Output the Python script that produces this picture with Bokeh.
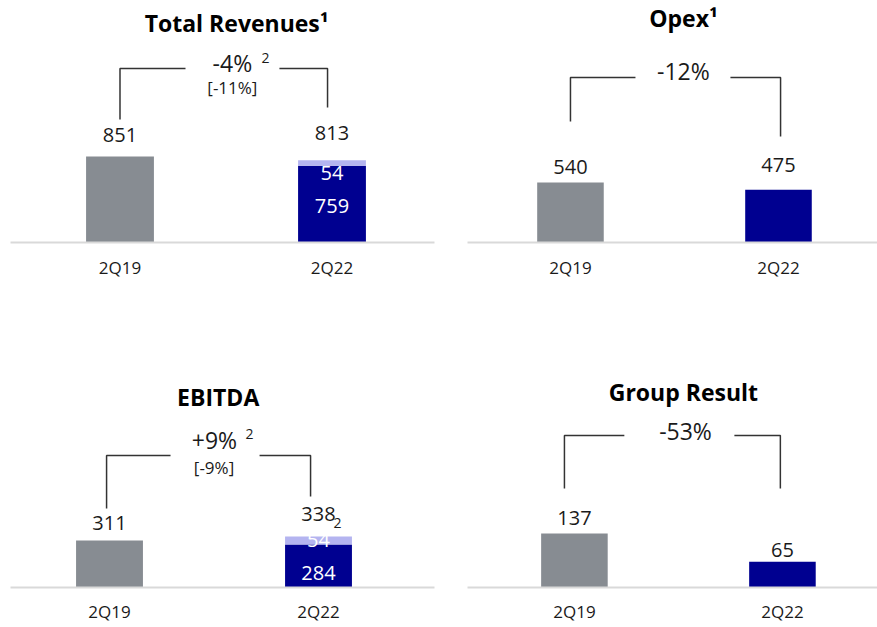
from bokeh.plotting import figure
from bokeh.layouts import column, row
from bokeh.models import Range1d, FixedTicker, ColumnDataSource
from bokeh.embed import file_html
from bokeh.resources import INLINE
from bokeh.core.properties import value

# ---------------- data ----------------
categories = ["2Q19", "2Q22"]

revenue_base = [851, 759]
revenue_extra = [0, 54]
opex = [540, 475]
ebitda_base = [311, 284]
ebitda_extra = [0, 54]
group_result = [137, 65]

titles = ["Total Revenues\u00b9", "Opex\u00b9", "EBITDA", "Group Result"]
changes = ["-4%", "-12%", "+9%", "-53%"]
change_notes = ["[-11%]", None, "[-9%]", None]

# ---------------- style ----------------
FONT = "Open Sans"
GRAY = "#878c92"
NAVY = "#000090"
LIGHT = "#b4b4f0"
INK = "#1a1a1a"
LINE = "#333333"
AXIS = "#d9d9d9"
FS_VAL = 20
FS_TITLE = 23
FS_CHG = 23
FS_NOTE = 17
FS_SUP = 14
BASE_FIX = 0.4  # baseline correction (fraction of font size)


def make_panel(base, extra, title, change, note, lay):
    h, bb = lay["h"], lay["bb"]
    frame_h = h - bb
    ymax = lay["ymax"]
    k = ymax / frame_h

    def up(px):
        return px * k

    p = figure(width=lay["w"], height=h,
               x_range=Range1d(*lay["xr"]), y_range=Range1d(0, ymax),
               output_backend="svg", toolbar_location=None, tools="",
               min_border_left=lay["mbl"], min_border_right=lay["mbr"],
               min_border_top=0, min_border_bottom=bb,
               y_axis_location=None, outline_line_color=None,
               background_fill_color="white", border_fill_color="white")
    p.xgrid.visible = False
    p.ygrid.visible = False

    def txt(x, y, text, fs, color=INK, align="center", bold=False):
        p.text(x=x, y=[v + up(BASE_FIX * fs) for v in y], text=text,
               text_font=value(FONT), text_font_size=f"{fs}px",
               text_font_style="bold" if bold else "normal",
               text_color=color, text_align=align,
               text_baseline="alphabetic")

    xs = list(range(len(categories)))
    totals = [b + e for b, e in zip(base, extra)]

    # bars
    src = ColumnDataSource(dict(x=xs, top=base, color=[GRAY, NAVY]))
    p.vbar(x="x", top="top", bottom=0, width=0.32, fill_color="color",
           line_color=None, source=src)
    ex_x = [x for x, e in zip(xs, extra) if e > 0]
    if ex_x:
        ex_b = [b for b, e in zip(base, extra) if e > 0]
        ex_t = [b + e for b, e in zip(base, extra) if e > 0]
        p.vbar(x=ex_x, bottom=ex_b, top=ex_t, width=0.32,
               fill_color=LIGHT, line_color=None)
        txt(ex_x, [t + up(lay["extra_lbl"]) for t in ex_t],
            [str(e) for e in extra if e > 0], FS_VAL, color="white")
        txt(ex_x, [up(lay["base_lbl"])] * len(ex_x),
            [str(b) for b, e in zip(base, extra) if e > 0], FS_VAL,
            color="white")

    # total labels
    txt(xs, [t + up(g) for t, g in zip(totals, lay["gaps"])],
        [str(t) for t in totals], FS_VAL)
    if lay.get("sub"):
        txt([xs[1] + lay["sub"]], [totals[1] + up(lay["gaps"][1] - 6)],
            ["2"], FS_SUP, align="left")

    # title
    txt([lay["title_x"]], [up(lay["title_px"])], [title], FS_TITLE,
        color="black", bold=True)

    # bracket
    xl, xr, g1, g2 = lay["bx"]
    top = up(lay["btop"])
    fl, fr = up(lay["feet"][0]), up(lay["feet"][1])
    p.multi_line(xs=[[xl, xl, g1], [g2, xr, xr]],
                 ys=[[fl, top, top], [top, top, fr]],
                 line_color=LINE, line_width=1.5)

    txt([lay["chg"][0]], [up(lay["chg"][1])], [change], FS_CHG)
    if note:
        txt([lay["sup"][0]], [up(lay["sup"][1])], ["2"], FS_SUP)
        txt([lay["note"][0]], [up(lay["note"][1])], [note], FS_NOTE)

    # category axis
    ax = p.xaxis[0]
    ax.ticker = FixedTicker(ticks=xs)
    ax.major_label_overrides = {i: c for i, c in enumerate(categories)}
    ax.axis_line_color = AXIS
    ax.axis_line_width = 2
    ax.major_tick_line_color = None
    ax.minor_tick_line_color = None
    ax.major_tick_out = 0
    ax.major_tick_in = 0
    ax.major_label_standoff = lay["standoff"]
    ax.major_label_text_font = FONT
    ax.major_label_text_font_size = "17px"
    ax.major_label_text_color = INK
    return p


LEFT = dict(w=438, mbl=10, mbr=4)
RIGHT = dict(w=439, mbl=29, mbr=0)
TOP = dict(h=308, bb=66, standoff=13)
BOTTOM = dict(h=319, bb=40, standoff=12)

lay1 = dict(LEFT, **TOP, xr=(-0.5165, 1.4835), ymax=2395, title_x=0.55,
            title_px=210, gaps=[14, 19], extra_lbl=-21, base_lbl=29,
            bx=(0.0, 0.979, 0.309, 0.752), btop=174, feet=(123, 135),
            chg=(0.53, 170), sup=(0.686, 179), note=(0.53, 148))
lay2 = dict(RIGHT, **TOP, xr=(-0.495, 1.476), ymax=2178, title_x=0.543,
            title_px=215, gaps=[8, 17],
            bx=(0.0, 1.01, 0.3125, 0.769), btop=165, feet=(121, 106),
            chg=(0.543, 162))
lay3 = dict(LEFT, **BOTTOM, xr=(-0.4737, 1.555), ymax=1846, title_x=0.52,
            title_px=181, gaps=[9, 14], extra_lbl=-12, base_lbl=7,
            sub=0.072,
            bx=(-0.014, 0.962, 0.292, 0.718), btop=132, feet=(79, 91),
            chg=(0.502, 138), sup=(0.67, 148), note=(0.50, 113))
lay4 = dict(RIGHT, **BOTTOM, xr=(-0.514, 1.457), ymax=707, title_x=0.524,
            title_px=186, gaps=[7, 4],
            bx=(-0.048, 0.99, 0.240, 0.769), btop=152, feet=(99, 99),
            chg=(0.534, 147))

p1 = make_panel(revenue_base, revenue_extra, titles[0], changes[0],
                change_notes[0], lay1)
p2 = make_panel(opex, [0, 0], titles[1], changes[1], change_notes[1], lay2)
p3 = make_panel(ebitda_base, ebitda_extra, titles[2], changes[2],
                change_notes[2], lay3)
p4 = make_panel(group_result, [0, 0], titles[3], changes[3],
                change_notes[3], lay4)

layout = column(row(p1, p2), row(p3, p4))
open("out.html", "w").write(file_html(layout, INLINE))
